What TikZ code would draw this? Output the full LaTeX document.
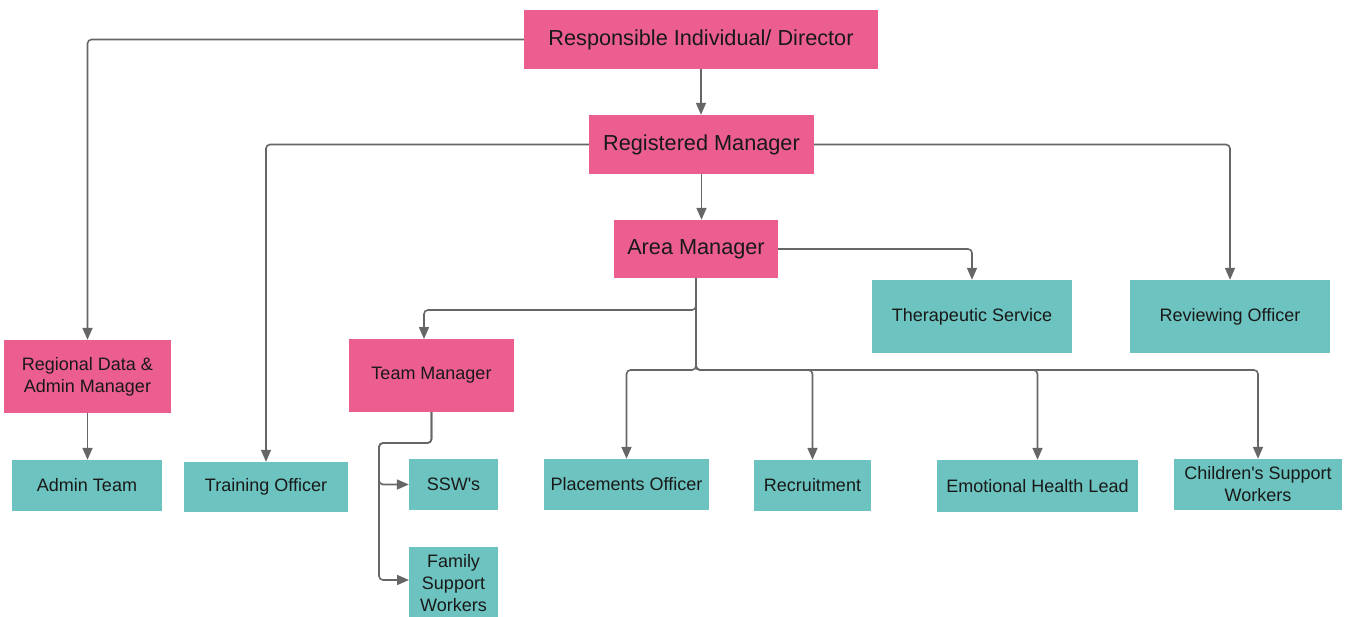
\documentclass[tikz,border=0pt]{standalone}
\usepackage{fontspec}
\setmainfont{Liberation Sans}[Ligatures=TeXOff]
\usetikzlibrary{arrows.meta,calc}
\definecolor{pinkc}{HTML}{EC5E90}
\definecolor{tealc}{HTML}{6DC3BF}
\definecolor{linec}{HTML}{666666}
\tikzset{
  bigtext/.style={font=\fontsize{21.7}{26}\selectfont},
  smalltext/.style={font=\fontsize{18}{22}\selectfont},
  pinkbox/.style={fill=pinkc, draw=none, inner sep=0pt, align=center, text=black!90},
  tealbox/.style={fill=tealc, draw=none, inner sep=0pt, align=center, text=black!90},
  conn/.style={draw=linec, line width=1.6pt, rounded corners=4pt, -{Triangle[length=12pt,width=10pt]}},
}
\begin{document}
\begin{tikzpicture}[x=1pt,y=-1pt]
\useasboundingbox (0,0) rectangle (1346,616);
% pink boxes
\node[pinkbox,bigtext,minimum width=354pt,minimum height=59pt] (resp) at (701,39.5) {Responsible Individual/ Director};
\node[pinkbox,bigtext,minimum width=225pt,minimum height=59pt] (reg) at (701.5,144.5) {Registered Manager};
\node[pinkbox,bigtext,minimum width=164pt,minimum height=58pt] (area) at (696,249) {Area Manager};
\node[pinkbox,smalltext,minimum width=167pt,minimum height=73pt] (regional) at (87.5,376.5) {Regional Data \&\\Admin Manager};
\node[pinkbox,smalltext,minimum width=165pt,minimum height=73pt] (team) at (431.5,375.5) {Team Manager};
% teal boxes
\node[tealbox,smalltext,minimum width=200pt,minimum height=73pt] (ther) at (972,316.5) {Therapeutic Service};
\node[tealbox,smalltext,minimum width=200pt,minimum height=73pt] (rev) at (1230,316.5) {Reviewing Officer};
\node[tealbox,smalltext,minimum width=150pt,minimum height=51pt] (admin) at (87,485.5) {Admin Team};
\node[tealbox,smalltext,minimum width=164pt,minimum height=50pt] (train) at (266,487) {Training Officer};
\node[tealbox,smalltext,minimum width=89pt,minimum height=51pt] (ssw) at (453.5,484.5) {SSW's};
\node[tealbox,smalltext,minimum width=89pt,minimum height=72pt] (family) at (453.5,583) {Family\\Support\\Workers};
\node[tealbox,smalltext,minimum width=165pt,minimum height=51pt] (place) at (626.5,484.5) {Placements Officer};
\node[tealbox,smalltext,minimum width=117pt,minimum height=51pt] (recr) at (812.5,485.5) {Recruitment};
\node[tealbox,smalltext,minimum width=201pt,minimum height=52pt] (emo) at (1037.5,486) {Emotional Health Lead};
\node[tealbox,smalltext,minimum width=168pt,minimum height=51pt] (child) at (1258,484.5) {Children's Support\\Workers};
% coordinates
\coordinate (tmlevel) at (696,310);
\coordinate (bus) at (696,370);
\coordinate (tb) at (379,443);
\coordinate (teamin) at (424,339);
\coordinate (famin) at (409,580);
% connectors
\draw[conn] (resp.west) -| (regional.north);
\draw[conn] (resp.south) -- (resp.south |- reg.north);
\draw[conn] (reg.west) -| (train.north);
\draw[conn] (reg.east) -| (rev.north);
\draw[conn] (reg.south) -- (reg.south |- area.north);
\draw[conn] (area.east) -| (ther.north);
\draw[conn] (area.south) |- (tmlevel -| teamin) -- (teamin);
\draw[conn] (area.south) |- (bus -| place.north) -- (place.north);
\draw[conn] (area.south) |- (bus -| recr.north) -- (recr.north);
\draw[conn] (area.south) |- (bus -| emo.north) -- (emo.north);
\draw[conn] (area.south) |- (bus -| child.north) -- (child.north);
\draw[conn] (regional.south) -- (regional.south |- admin.north);
\draw[conn] (team.south) |- (tb) |- (ssw.west);
\draw[conn] (team.south) |- (tb) |- (famin);
\end{tikzpicture}
\end{document}
